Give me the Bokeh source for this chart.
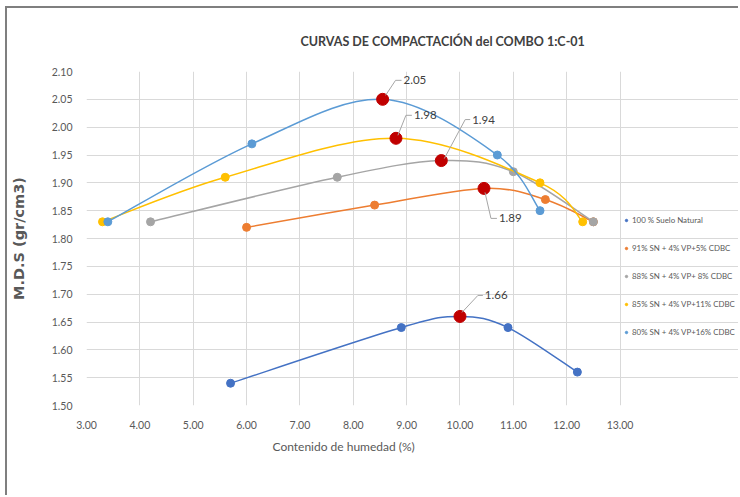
import numpy as np
from bokeh.plotting import figure
from bokeh.models import (ColumnDataSource, Legend, LegendItem, Range1d,
                          FixedTicker, NumeralTickFormatter, Title)
from bokeh.core.properties import value
from bokeh.embed import file_html
from bokeh.resources import INLINE

# ---------------- data ----------------
title_text = "CURVAS DE COMPACTACIÓN del COMBO 1:C-01"
x_label = "Contenido de humedad (%)"
y_label = "M.D.S (gr/cm3)"

series_names = [
    "100 % Suelo Natural",
    "91% SN + 4% VP+5% CDBC",
    "88% SN + 4% VP+ 8% CDBC",
    "85% SN + 4% VP+11% CDBC",
    "80% SN + 4% VP+16% CDBC",
]
series_colors = ["#4472C4", "#ED7D31", "#A5A5A5", "#FFC000", "#5B9BD5"]

s1_x = [5.7, 8.9, 10.9, 12.2]
s1_y = [1.54, 1.64, 1.64, 1.56]
s2_x = [6.0, 8.4, 11.6, 12.5]
s2_y = [1.82, 1.86, 1.87, 1.83]
s3_x = [4.2, 7.7, 11.0, 12.5]
s3_y = [1.83, 1.91, 1.92, 1.83]
s4_x = [3.3, 5.6, 11.5, 12.3]
s4_y = [1.83, 1.91, 1.90, 1.83]
s5_x = [3.4, 6.1, 10.7, 11.5]
s5_y = [1.83, 1.97, 1.95, 1.85]

# maximum points (red) with their labels
peak_x = [10.0, 10.45, 9.65, 8.8, 8.55]
peak_y = [1.66, 1.89, 1.94, 1.98, 2.05]
peak_labels = ["1.66", "1.89", "1.94", "1.98", "2.05"]

x_ticks = [3.0, 4.0, 5.0, 6.0, 7.0, 8.0, 9.0, 10.0, 11.0, 12.0, 13.0]
y_ticks = [1.50, 1.55, 1.60, 1.65, 1.70, 1.75, 1.80, 1.85, 1.90, 1.95, 2.00, 2.05, 2.10]

# ---------------- layout / style ----------------
OFF_X, OFF_Y = 7, 8          # canvas origin on the page (margin + border)
W, H = 740 - OFF_X, 497 - OFF_Y
BL, BT = 83 - OFF_X, 71 - OFF_Y
X0, XMAX, Y0, Y1 = 3.0, 13.0, 1.50, 2.10
SX = 536 / (XMAX - X0)       # px per x unit inside the plot area
FW = W - BL                  # frame runs to the right edge (legend lives there)
FH = 334
BB = H - BT - FH
X1 = X0 + FW / SX
SY = FH / (Y1 - Y0)

FONT = "Lato"
GRID = "#D9D9D9"
TXT = "#595959"

p = figure(width=W, height=H, output_backend="svg", toolbar_location=None,
           x_range=Range1d(X0, X1), y_range=Range1d(Y0, Y1),
           min_border_left=BL, min_border_right=0,
           min_border_top=BT, min_border_bottom=BB,
           background_fill_color="white", border_fill_color="white")
# chart-area frame (top and left edges visible in the window)
p.styles = {"margin-left": "5px", "margin-top": "6px",
            "border-top": "2px solid #7F7F7F",
            "border-left": "2px solid #7F7F7F"}

p.title.visible = False
p.add_layout(Title(text=" ", text_font_size="6px"), "above")
p.add_layout(Title(text=title_text, text_font=FONT, text_font_size="12.5px",
                   text_font_style="bold", text_color="#404040",
                   align="left", offset=214), "above")

p.outline_line_color = None
p.xgrid.grid_line_color = GRID
p.ygrid.grid_line_color = GRID
p.ygrid.bounds = (X0, XMAX)
p.xaxis.ticker = FixedTicker(ticks=x_ticks)
p.yaxis.ticker = FixedTicker(ticks=y_ticks)
p.xaxis.formatter = NumeralTickFormatter(format="0.00")
p.yaxis.formatter = NumeralTickFormatter(format="0.00")
for ax in (p.xaxis[0], p.yaxis[0]):
    ax.axis_line_color = None
    ax.major_tick_line_color = None
    ax.minor_tick_line_color = None
    ax.major_label_text_font = FONT
    ax.major_label_text_font_size = "10.5px"
    ax.major_label_text_color = TXT
p.xaxis.major_label_standoff = 9
p.yaxis.major_label_standoff = 8
p.add_layout(Title(text=x_label, text_font=FONT, text_font_size="12px",
                   text_font_style="normal", text_color=TXT,
                   align="left", offset=186), "below")
p.yaxis.axis_label = y_label
p.yaxis.axis_label_text_font = "DejaVu Sans"
p.yaxis.axis_label_text_font_size = "14.5px"
p.yaxis.axis_label_text_font_style = "bold"
p.yaxis.axis_label_text_color = TXT
p.yaxis.axis_label_standoff = 22


def bezier_segments(xs, ys):
    pts = sorted(zip(xs, ys))
    n = len(pts)
    d = dict(x0=[], y0=[], x1=[], y1=[], cx0=[], cy0=[], cx1=[], cy1=[])
    for i in range(n - 1):
        p0 = pts[max(i - 1, 0)]
        p1 = pts[i]
        p2 = pts[i + 1]
        p3 = pts[min(i + 2, n - 1)]
        d["x0"].append(p1[0]); d["y0"].append(p1[1])
        d["x1"].append(p2[0]); d["y1"].append(p2[1])
        d["cx0"].append(p1[0] + (p2[0] - p0[0]) / 6.0)
        d["cy0"].append(p1[1] + (p2[1] - p0[1]) / 6.0)
        d["cx1"].append(p2[0] - (p3[0] - p1[0]) / 6.0)
        d["cy1"].append(p2[1] - (p3[1] - p1[1]) / 6.0)
    return d


all_x = [s1_x, s2_x, s3_x, s4_x, s5_x]
all_y = [s1_y, s2_y, s3_y, s4_y, s5_y]

legend_items = []
for i in range(5):
    cx = list(all_x[i]) + [peak_x[i]]
    cy = list(all_y[i]) + [peak_y[i]]
    src = ColumnDataSource(bezier_segments(cx, cy))
    p.bezier(x0="x0", y0="y0", x1="x1", y1="y1", cx0="cx0", cy0="cy0",
             cx1="cx1", cy1="cy1", source=src,
             line_color=series_colors[i], line_width=1.5)
    r = p.scatter(all_x[i], all_y[i], size=8, marker="circle",
                  fill_color=series_colors[i], line_color=series_colors[i])
    legend_items.append(LegendItem(label=series_names[i], renderers=[r]))

# red maximum points
p.scatter(peak_x, peak_y, size=12, marker="circle",
          fill_color="#C00000", line_color="#C00000")

# data labels with leader lines (pixel offsets from the point)
elbow_px = [(18, -21), (7, 30), (24, -41), (10, -23), (13, -19)]
end_px = [(23, -21), (13, 30), (29, -41), (16, -23), (19, -19)]
start_px = [(2, -4), (1, 4), (3, -2), (2, -3), (3, -4)]
lx0, ly0, lx1, ly1, lx2, ly2, tx, ty = [], [], [], [], [], [], [], []
for i in range(5):
    px, py = peak_x[i], peak_y[i]
    lx0.append(px + start_px[i][0] / SX); ly0.append(py - start_px[i][1] / SY)
    lx1.append(px + elbow_px[i][0] / SX); ly1.append(py - elbow_px[i][1] / SY)
    lx2.append(px + end_px[i][0] / SX); ly2.append(py - end_px[i][1] / SY)
    tx.append(px + (end_px[i][0] + 2) / SX); ty.append(py - end_px[i][1] / SY)
p.segment(lx0, ly0, lx1, ly1, line_color="#A6A6A6", line_width=1)
p.segment(lx1, ly1, lx2, ly2, line_color="#A6A6A6", line_width=1)
p.text(tx, ty, text=peak_labels, text_font=value(FONT),
       text_font_size="11.5px", text_color="#404040",
       text_baseline="middle", text_align="left")

legend = Legend(items=legend_items, location=(537, 66),
                border_line_color=None, background_fill_alpha=0,
                padding=0, margin=0, spacing=14,
                glyph_width=6, glyph_height=14, label_height=14,
                label_standoff=3, label_text_font=FONT,
                label_text_font_size="7.9px", label_text_color=TXT)
p.add_layout(legend)

open("out.html", "w").write(file_html(p, INLINE))
